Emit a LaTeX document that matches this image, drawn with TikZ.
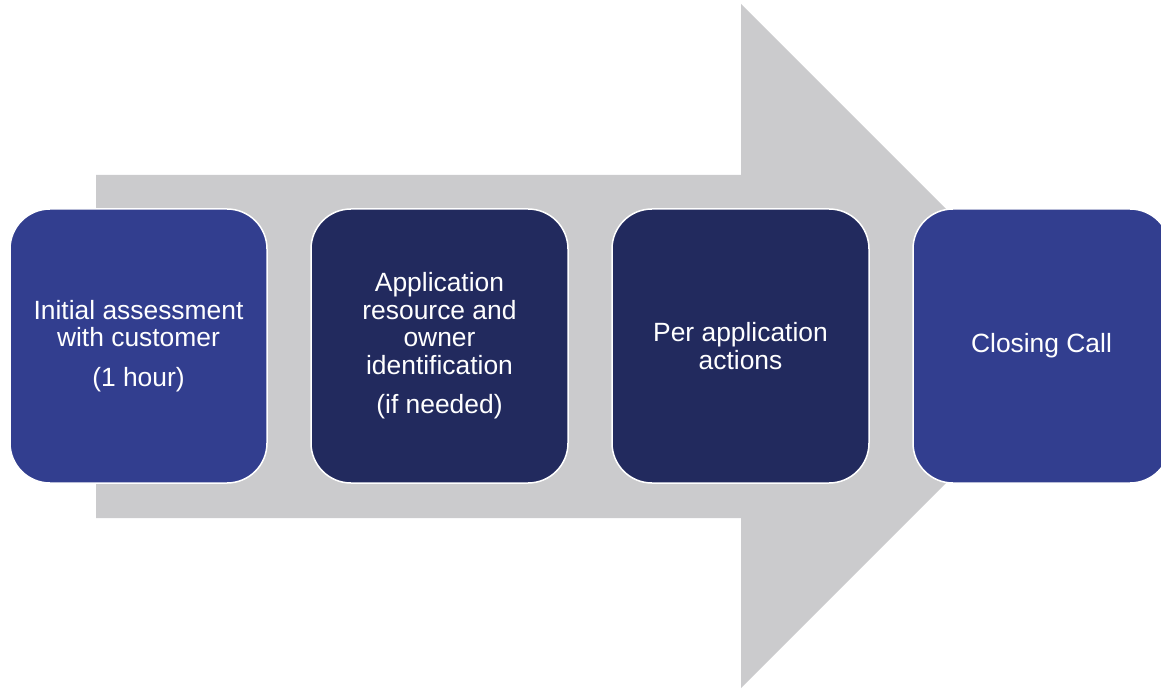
\documentclass[tikz,border=0pt]{standalone}
\usepackage{fontspec}
\setmainfont{Liberation Sans}
\definecolor{stageblue}{RGB}{50,62,143}
\definecolor{stagenavy}{RGB}{34,42,94}
\definecolor{arrowgray}{RGB}{203,203,205}
\tikzset{
  stage/.style={draw=white, line width=1.5pt, rounded corners=40pt,
    minimum width=257pt, minimum height=274pt, inner sep=0pt,
    text=white, align=center, font=\fontsize{26.4}{27.5}\selectfont},
}
\begin{document}
\begin{tikzpicture}[x=1pt,y=-1pt]
	\useasboundingbox (0,0) rectangle (1161,692);
	% big gray arrow behind the stages
	\fill[arrowgray] (96,175) -- (741,175) -- (741,4) -- (1083,346) -- (741,688) -- (741,518) -- (96,518) -- cycle;
	% the four stages
	\node[stage, fill=stageblue] (assess) at (138.5,346) {Initial assessment\\with customer\\[12pt](1 hour)};
	\node[stage, fill=stagenavy] (ident) at (439.5,346) {Application\\resource and\\owner\\identification\\[12pt](if needed)};
	\node[stage, fill=stagenavy] (actions) at (740.5,346) {Per application\\actions};
	\node[stage, fill=stageblue] (closing) at (1041.5,346) {Closing Call};
\end{tikzpicture}
\end{document}
